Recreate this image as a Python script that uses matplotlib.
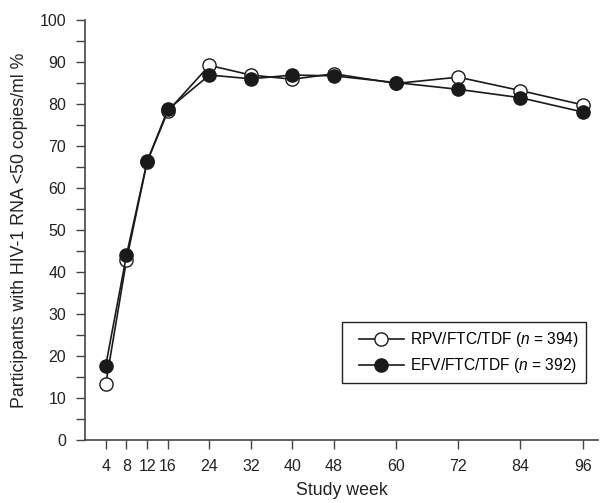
import matplotlib
matplotlib.use("Agg")
import matplotlib.pyplot as plt
from matplotlib.ticker import MultipleLocator
from matplotlib.legend_handler import HandlerLine2D

plt.rcParams['font.family'] = ['Liberation Sans', 'DejaVu Sans']
plt.rcParams['mathtext.fontset'] = 'custom'
plt.rcParams['mathtext.it'] = 'Liberation Sans:italic'
plt.rcParams['mathtext.rm'] = 'Liberation Sans'

# study weeks and % with HIV-1 RNA <50 copies/ml
weeks = [4, 8, 12, 16, 24, 32, 40, 48, 60, 72, 84, 96]
rpv = [13.3, 42.8, 66.3, 78.3, 89.2, 86.9, 85.9, 87.2, 84.9, 86.4, 83.2, 79.8]
efv = [17.7, 44.0, 66.4, 78.7, 86.9, 86.0, 86.9, 86.7, 85.1, 83.5, 81.5, 78.1]
labels = [r"RPV/FTC/TDF ($\it{n}$ = 394)", r"EFV/FTC/TDF ($\it{n}$ = 392)"]

fig = plt.figure(figsize=(6.01, 5.03), dpi=100)
ax = fig.add_axes([0.1414, 0.1252, 0.854, 0.835])

l1, = ax.plot(weeks, rpv, color='#1a1a1a', lw=1.2, marker='o', markersize=9.5,
              markerfacecolor='white', markeredgecolor='#1a1a1a', markeredgewidth=1.0,
              label=labels[0], zorder=3)
l2, = ax.plot(weeks, efv, color='#1a1a1a', lw=1.2, marker='o', markersize=9.5,
              markerfacecolor='#1a1a1a', markeredgecolor='#1a1a1a',
              label=labels[1], zorder=4)

ax.set_xlim(0, 99)
ax.set_ylim(0, 100)
ax.set_xticks(weeks)
ax.yaxis.set_major_locator(MultipleLocator(10))
ax.yaxis.set_minor_locator(MultipleLocator(5))

for s in ['top', 'right']:
    ax.spines[s].set_visible(False)
for s in ['left', 'bottom']:
    ax.spines[s].set_color('#444444')
    ax.spines[s].set_linewidth(1.2)

ax.tick_params(axis='both', which='both', direction='out', length=6.5, width=1.0,
               color='#444444', labelsize=11.5, labelcolor='#222222', pad=7)

ax.set_xlabel("Study week", fontsize=12.8, color='#222222', labelpad=6)
ax.set_ylabel("Participants with HIV-1 RNA <50 copies/ml %", fontsize=12.8,
              color='#222222', labelpad=8)

hmap = {l1: HandlerLine2D(xpad=0.6), l2: HandlerLine2D(xpad=0.6)}
leg = ax.legend(handles=[l1, l2], loc='lower right', bbox_to_anchor=(0.977, 0.136),
                borderaxespad=0, fontsize=11.2, handlelength=3.5, handletextpad=0.4,
                fancybox=False, framealpha=1, edgecolor='#222222', borderpad=0.5,
                labelspacing=0.45, handler_map=hmap)
leg.get_frame().set_linewidth(1.0)

plt.savefig("out.png", dpi=100)
